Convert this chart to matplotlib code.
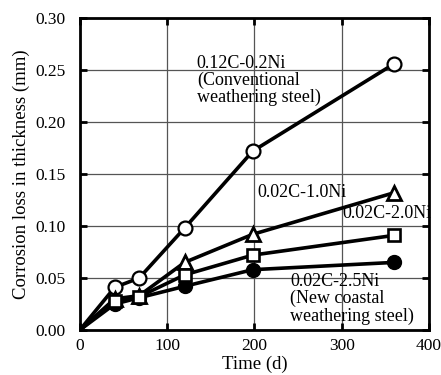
import numpy as np
import matplotlib.pyplot as plt

plt.rcParams['font.family'] = ['Liberation Serif', 'DejaVu Serif']

days = [0, 40, 68, 120, 198, 360]
loss_012c_02ni = [0, 0.041, 0.050, 0.098, 0.172, 0.256]
loss_002c_10ni = [0, 0.030, 0.033, 0.065, 0.092, 0.132]
loss_002c_20ni = [0, 0.028, 0.032, 0.053, 0.072, 0.091]
loss_002c_25ni = [0, 0.025, 0.031, 0.042, 0.058, 0.065]

fig = plt.figure(figsize=(4.41, 3.75), dpi=100)
ax = fig.add_axes([0.181, 0.12, 0.792, 0.832])

lw = 2.6
ms = 10
ax.plot(days, loss_012c_02ni, '-', color='black', lw=lw, zorder=3)
ax.plot(days[1:], loss_012c_02ni[1:], 'o', mfc='white', mec='black', mew=1.6, ms=ms, zorder=4)
ax.plot(days, loss_002c_10ni, '-', color='black', lw=lw, zorder=3)
ax.plot(days[1:], loss_002c_10ni[1:], '^', mfc='white', mec='black', mew=2, ms=ms, zorder=4)
ax.plot(days, loss_002c_20ni, '-', color='black', lw=lw, zorder=3)
ax.plot(days[1:], loss_002c_20ni[1:], 's', mfc='white', mec='black', mew=1.9, ms=ms - 1, zorder=5)
ax.plot(days, loss_002c_25ni, '-', color='black', lw=lw, zorder=3)
ax.plot(days[1:], loss_002c_25ni[1:], 'o', mfc='black', mec='black', ms=ms, zorder=4)

ax.set_xlim(0, 400)
ax.set_ylim(0, 0.30)
ax.set_xticks([0, 100, 200, 300, 400])
ax.set_yticks(np.arange(0, 0.31, 0.05))
ax.set_yticklabels(['%.2f' % v for v in np.arange(0, 0.31, 0.05)])
ax.grid(True, color='#555555', lw=0.9)
ax.tick_params(direction='in', length=5, width=2, labelsize=12.5, top=True, right=True)
ax.tick_params(axis='y', pad=10)
ax.tick_params(axis='x', pad=6)
for s in ax.spines.values():
    s.set_linewidth(2)

ax.set_xlabel('Time (d)', fontsize=13.5, labelpad=1)
ax.set_ylabel('Corrosion loss in thickness (mm)', fontsize=13.5, labelpad=4)

fs = 13
ax.text(134, 0.240, '0.12C-0.2Ni\n(Conventional\nweathering steel)', fontsize=fs,
        va='center', ha='left', linespacing=1.0, zorder=6)
ax.text(203, 0.132, '0.02C-1.0Ni', fontsize=fs, va='center', ha='left', zorder=6)
ax.text(301, 0.112, '0.02C-2.0Ni', fontsize=fs, va='center', ha='left', zorder=6)
ax.text(241, 0.030, '0.02C-2.5Ni\n(New coastal\nweathering steel)', fontsize=fs,
        va='center', ha='left', linespacing=1.0, zorder=6)

fig.savefig('out.png', dpi=100)
